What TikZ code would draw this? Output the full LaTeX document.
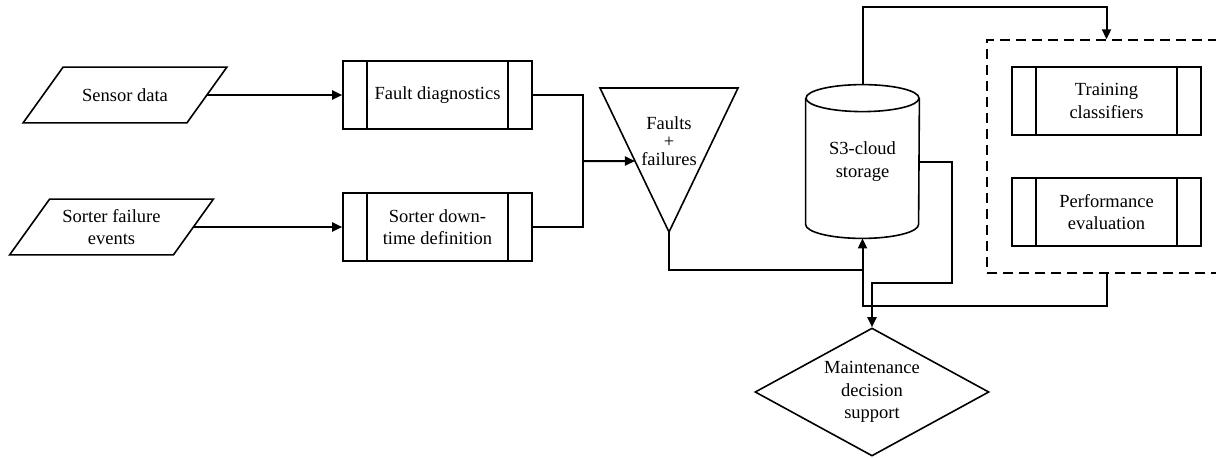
\documentclass[tikz,border=0pt]{standalone}
\usepackage{fontspec}
\setmainfont{Liberation Serif}
\usetikzlibrary{arrows.meta,shapes.geometric,calc}
\begin{document}
\begin{tikzpicture}[x=0.5pt,y=-0.5pt,
  font=\fontsize{9.25pt}{11.25pt}\selectfont,
  shp/.style={draw,line width=0.8pt},
  procbox/.style={shp,minimum width=94.5pt,minimum height=34pt,align=center,inner sep=0pt,
    path picture={\draw[line width=0.8pt]
      ([xshift=12pt]path picture bounding box.north west) -- ([xshift=12pt]path picture bounding box.south west)
      ([xshift=-12pt]path picture bounding box.north east) -- ([xshift=-12pt]path picture bounding box.south east);}},
  para/.style={minimum width=81.5pt,minimum height=27.5pt,align=center,inner sep=0pt},
  ln/.style={line width=1pt},
  arr/.style={ln,-{Triangle[length=5pt,width=4.5pt]}}]
\useasboundingbox (0,0) rectangle (1216,457);

% input parallelograms
\node[para] (p1) at (125,95) {Sensor data};
\draw[shp] ([xshift=10pt]p1.north west) -- ([xshift=10pt]p1.north east) -- ([xshift=-10pt]p1.south east) -- ([xshift=-10pt]p1.south west) -- cycle;
\node[para] (p2) at (111.5,227) {Sorter failure\\events};
\draw[shp] ([xshift=10pt]p2.north west) -- ([xshift=10pt]p2.north east) -- ([xshift=-10pt]p2.south east) -- ([xshift=-10pt]p2.south west) -- cycle;

% process boxes
\node[procbox] (fd) at (437.5,95) {Fault diagnostics};
\node[procbox] (sd) at (437.5,227) {Sorter down-\\time definition};

% triangle
\coordinate (tTL) at (600,88);
\coordinate (tTR) at (738,88);
\coordinate (tB) at (669,232);
\draw[shp] (tTL) -- (tTR) -- (tB) -- cycle;
\node[align=center,inner sep=0pt,font=\fontsize{9.25pt}{9pt}\selectfont] (tri) at (669,141) {Faults\\+\\failures};
\coordinate (tIn) at ($(tTL)!0.507!(tB)$);

% cylinder
\node[minimum width=56.5pt,minimum height=76.5pt,inner sep=0pt,align=center] (cyl) at (862.5,161.5) {S3-cloud\\storage};
\draw[shp] ([yshift=-6.75pt]cyl.north) ellipse[x radius=28.25pt,y radius=6.75pt];
\draw[shp] ([yshift=-6.75pt]cyl.north west) -- ([yshift=7pt]cyl.south west)
  arc[start angle=180,end angle=360,x radius=28.25pt,y radius=7pt] -- ([yshift=-6.75pt]cyl.north east);

% dashed group
\node[draw,line width=0.7pt,dash pattern=on 5pt off 3pt,minimum width=119.5pt,minimum height=116.5pt,inner sep=0pt] (dsh) at (1106.5,156.5) {};
\node[procbox] (tc) at (1106.5,101) {Training\\classifiers};
\node[procbox] (pe) at (1106.5,212) {Performance\\evaluation};

% diamond
\node[shp,shape=diamond,aspect=1.83,minimum width=117pt,minimum height=64pt,inner sep=0pt,align=center] (dia) at (872,392) {Maintenance\\decision\\support};

% junctions
\coordinate (jn) at (583,161);
\coordinate (jc) at (862.5,270);
\coordinate (jt) at (1106.5,7);
\coordinate (jr) at (952,283);
\coordinate (jb) at (1106.5,306);

% connectors
\draw[arr] (p1.east) -- (fd.west);
\draw[arr] (p2.east) -- (sd.west);
\draw[ln] (fd.east) -| (jn);
\draw[ln] (sd.east) -| (jn);
\draw[arr] (jn) -- (tIn);
\draw[arr] (tB) |- (jc) -- (cyl.south);
\draw[arr] (cyl.north) |- (jt) -- (dsh.north);
\draw[arr] (cyl.east) -| (jr) -| (dia.north);
\draw[ln] (dsh.south) -- (jb) -| (jc);
\end{tikzpicture}
\end{document}
